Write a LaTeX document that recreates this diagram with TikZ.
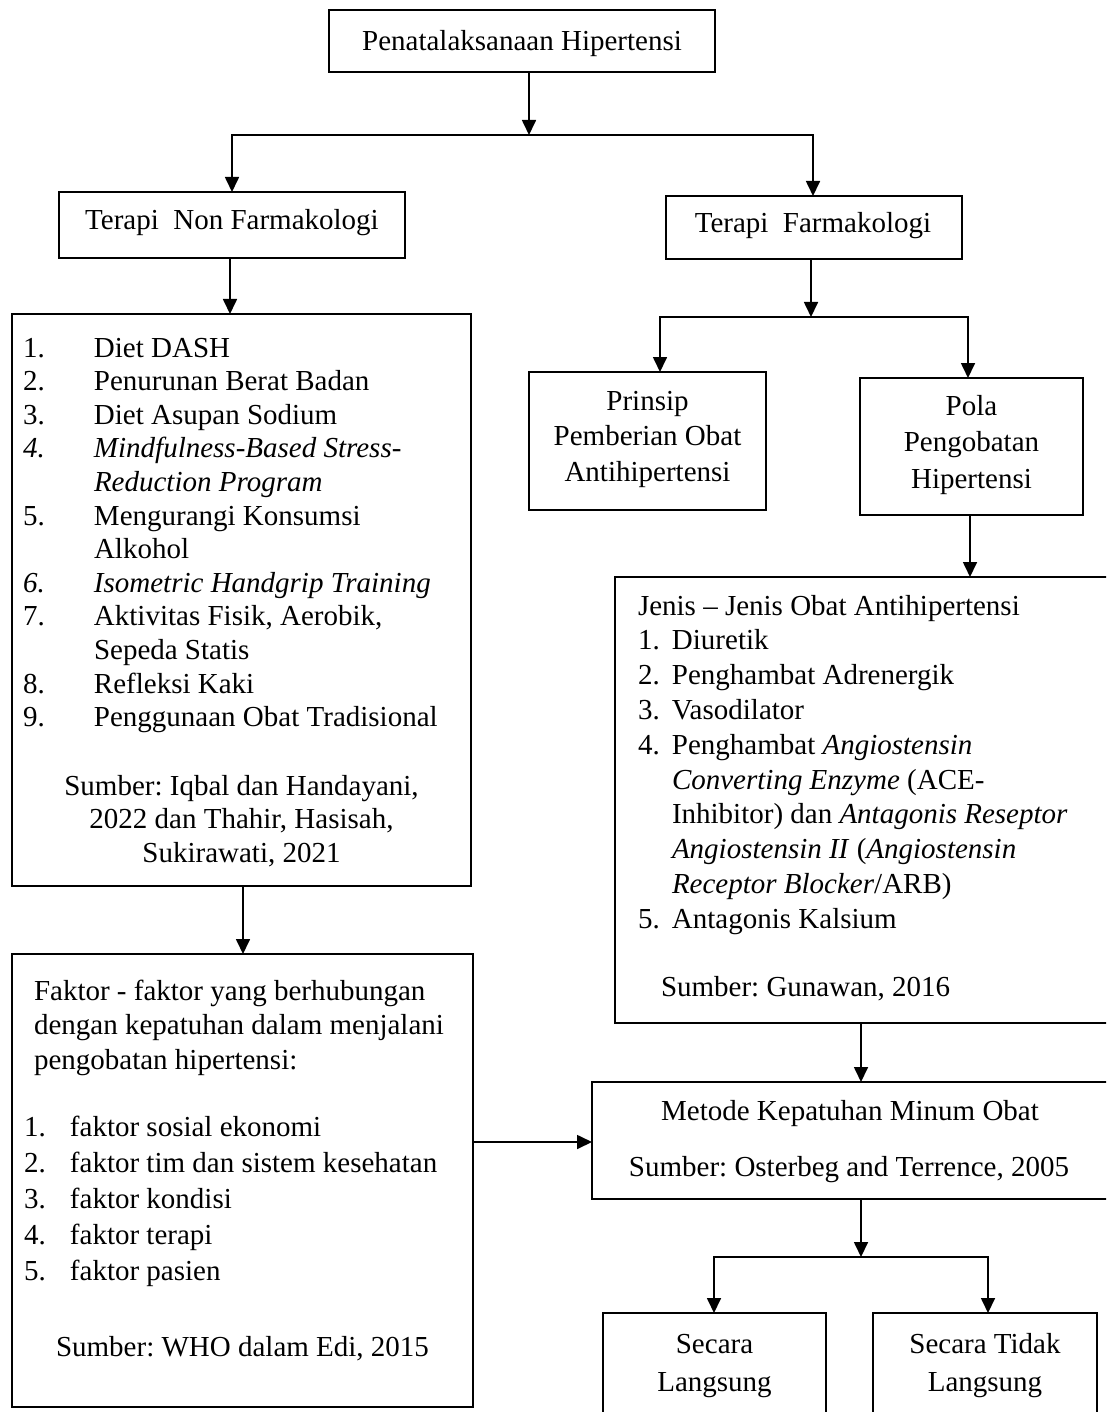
\documentclass[tikz,border=0pt]{standalone}
\usepackage{fontspec}
\setmainfont{Liberation Serif}
\usetikzlibrary{arrows.meta}
\frenchspacing
\begin{document}
\begin{tikzpicture}[x=1pt,y=-1pt,
  font=\fontsize{29}{34.8}\selectfont,
  box/.style={draw, line width=2.2pt, rectangle, anchor=north west, inner sep=0pt, outer sep=0pt},
  txt/.style={inner sep=0pt, outer sep=0pt},
  arr/.style={line width=1.7pt, -{Triangle[length=15pt,width=14pt]}},
  link/.style={line width=1.2pt, line cap=rect},
  linkb/.style={line width=1.7pt, line cap=rect}]
\useasboundingbox (0,0) rectangle (1106,1412);
\clip (0,0) rectangle (1106,1412);

% boxes
\node[box, minimum width=386pt, minimum height=62pt] (top) at (329,10) {};
\node[box, minimum width=346pt, minimum height=66pt] (tnf) at (59,192) {};
\node[box, minimum width=296pt, minimum height=63pt] (tf) at (666,196) {};
\node[box, minimum width=459pt, minimum height=572pt] (list) at (12,314) {};
\node[box, minimum width=237pt, minimum height=138pt] (prinsip) at (529,372) {};
\node[box, minimum width=223pt, minimum height=137pt] (pola) at (860,378) {};
\node[box, minimum width=495pt, minimum height=446pt] (jenis) at (615,577) {};
\node[box, minimum width=461pt, minimum height=453pt] (faktor) at (12,954) {};
\node[box, minimum width=516pt, minimum height=117pt] (metode) at (592,1082) {};
\node[box, minimum width=223pt, minimum height=120pt] (sl) at (603,1313) {};
\node[box, minimum width=224pt, minimum height=120pt] (stl) at (873,1313) {};

% texts (base anchor of a multi-line node = baseline of its last line)
\node[txt, anchor=base] (toptext) at (522,51) {Penatalaksanaan Hipertensi};
\node[txt, anchor=base] (tnftext) at (232,230) {Terapi~ Non Farmakologi};
\node[txt, anchor=base] (tftext) at (813,233) {Terapi~ Farmakologi};

\node[txt, anchor=base west, align=left, font=\fontsize{29}{33.6}\selectfont] (listtext) at (23,726.6)
 {\makebox[71pt][l]{1.}Diet DASH\\
  \makebox[71pt][l]{2.}Penurunan Berat Badan\\
  \makebox[71pt][l]{3.}Diet Asupan Sodium\\
  \makebox[71pt][l]{\itshape 4.}\textit{Mindfulness-Based Stress-}\\
  \hspace*{71pt}\textit{Reduction Program}\\
  \makebox[71pt][l]{5.}Mengurangi Konsumsi\\
  \hspace*{71pt}Alkohol\\
  \makebox[71pt][l]{\itshape 6.}\textit{Isometric Handgrip Training}\\
  \makebox[71pt][l]{7.}Aktivitas Fisik, Aerobik,\\
  \hspace*{71pt}Sepeda Statis\\
  \makebox[71pt][l]{8.}Refleksi Kaki\\
  \makebox[71pt][l]{9.}Penggunaan Obat Tradisional};
\node[txt, anchor=base, align=center, font=\fontsize{29}{33.5}\selectfont] (listsrc) at (241.5,862)
 {Sumber: Iqbal dan Handayani,\\2022 dan Thahir, Hasisah,\\Sukirawati, 2021};

\node[txt, anchor=base, align=center, font=\fontsize{29}{35.5}\selectfont] (prinsiptext) at (647.5,481)
 {Prinsip\\Pemberian Obat\\Antihipertensi};
\node[txt, anchor=base, align=center, font=\fontsize{29}{36.5}\selectfont] (polatext) at (971.5,488)
 {Pola\\Pengobatan\\Hipertensi};

\node[txt, anchor=base west, align=left, font=\fontsize{29}{34.8}\selectfont] (jenistext) at (638,928.2)
 {Jenis -- Jenis Obat Antihipertensi\\
  \makebox[34pt][l]{1.}Diuretik\\
  \makebox[34pt][l]{2.}Penghambat Adrenergik\\
  \makebox[34pt][l]{3.}Vasodilator\\
  \makebox[34pt][l]{4.}Penghambat \textit{Angiostensin}\\
  \hspace*{34pt}\textit{Converting Enzyme} (ACE-\\
  \hspace*{34pt}Inhibitor) dan \textit{Antagonis Reseptor}\\
  \hspace*{34pt}\textit{Angiostensin II} (\textit{Angiostensin}\\
  \hspace*{34pt}\textit{Receptor Blocker}/ARB)\\
  \makebox[34pt][l]{5.}Antagonis Kalsium};
\node[txt, anchor=base west] (jenissrc) at (661,996) {Sumber: Gunawan, 2016};

\node[txt, anchor=base west, align=left, font=\fontsize{29}{34.5}\selectfont] (fhead) at (34,1069)
 {Faktor - faktor yang berhubungan\\dengan kepatuhan dalam menjalani\\pengobatan hipertensi:};
\node[txt, anchor=base west, align=left, font=\fontsize{29}{36}\selectfont] (fitems) at (24,1280)
 {\makebox[46pt][l]{1.}faktor sosial ekonomi\\
  \makebox[46pt][l]{2.}faktor tim dan sistem kesehatan\\
  \makebox[46pt][l]{3.}faktor kondisi\\
  \makebox[46pt][l]{4.}faktor terapi\\
  \makebox[46pt][l]{5.}faktor pasien};
\node[txt, anchor=base] (fsrc) at (242.5,1356) {Sumber: WHO dalam Edi, 2015};

\node[txt, anchor=base] (mtext) at (850,1120) {Metode Kepatuhan Minum Obat};
\node[txt, anchor=base] (msrc) at (849,1176) {Sumber: Osterbeg and Terrence, 2005};

\node[txt, anchor=base, align=center, font=\fontsize{29}{38}\selectfont] (sltext) at (714.5,1391) {Secara\\Langsung};
\node[txt, anchor=base, align=center, font=\fontsize{29}{38}\selectfont] (stltext) at (985,1391) {Secara Tidak\\Langsung};

% connectors
\coordinate (s1) at (529,135);
\coordinate (s1l) at (232,135);
\coordinate (s1r) at (813,135);
\draw[arr] (s1 |- top.south) -- (s1);
\draw[link] (s1l) -- (s1r);
\draw[arr] (s1l) -- (s1l |- tnf.north);
\draw[arr] (s1r) -- (s1r |- tf.north);

\coordinate (a2) at (230,0);
\draw[arr] (a2 |- tnf.south) -- (a2 |- list.north);

\coordinate (s2) at (811,317);
\coordinate (s2l) at (660,317);
\coordinate (s2r) at (968,317);
\draw[arr] (s2 |- tf.south) -- (s2);
\draw[link] (s2l) -- (s2r);
\draw[arr] (s2l) -- (s2l |- prinsip.north);
\draw[arr] (s2r) -- (s2r |- pola.north);

\coordinate (a3) at (970,0);
\draw[arr] (a3 |- pola.south) -- (a3 |- jenis.north);
\coordinate (a4) at (243,0);
\draw[arr] (a4 |- list.south) -- (a4 |- faktor.north);
\coordinate (a5) at (861,0);
\draw[arr] (a5 |- jenis.south) -- (a5 |- metode.north);
\coordinate (a6) at (0,1142);
\draw[arr] (a6 -| faktor.east) -- (a6 -| metode.west);

\coordinate (s3) at (861,1257);
\coordinate (s3l) at (714,1257);
\coordinate (s3r) at (988,1257);
\draw[arr] (s3 |- metode.south) -- (s3);
\draw[linkb] (s3l) -- (s3r);
\draw[arr] (s3l) -- (s3l |- sl.north);
\draw[arr] (s3r) -- (s3r |- stl.north);
\end{tikzpicture}
\end{document}
